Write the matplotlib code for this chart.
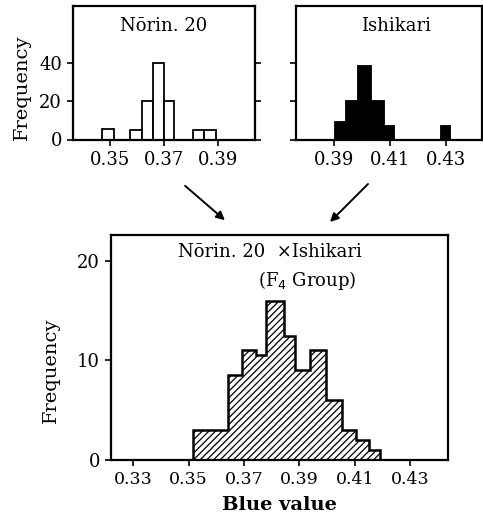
import matplotlib
matplotlib.use("Agg")
import matplotlib.pyplot as plt

# Norin 20 (parent), bins
nor_left = [0.3472, 0.3575, 0.3618, 0.3658, 0.3700, 0.3806, 0.3849]
nor_right = [0.3517, 0.3618, 0.3658, 0.3700, 0.3738, 0.3849, 0.3891]
nor_freq = [5.5, 5, 20, 40, 20, 5, 5]

# Ishikari (parent)
ish_left = [0.3897, 0.3939, 0.3981, 0.4032, 0.4076, 0.4277]
ish_right = [0.3939, 0.3981, 0.4032, 0.4076, 0.4115, 0.4316]
ish_freq = [9.5, 20.5, 39, 20.5, 7.5, 7.5]

# F4 group
f4_edges = [0.3516, 0.3642, 0.3694, 0.3742, 0.3778, 0.3844, 0.3886,
            0.3938, 0.3995, 0.4055, 0.4103, 0.4151, 0.4193]
f4_freq = [3, 8.5, 11, 10.5, 16, 12.5, 9, 11, 6, 3, 2, 1]

top_ticks = [0, 20, 40]
nor_xticks = [0.35, 0.37, 0.39]
ish_xticks = [0.39, 0.41, 0.43]
f4_xticks = [0.33, 0.35, 0.37, 0.39, 0.41, 0.43]
f4_yticks = [0, 10, 20]

plt.rcParams['font.family'] = 'DejaVu Serif'
plt.rcParams['hatch.linewidth'] = 0.9

W, H = 483, 519
fig = plt.figure(figsize=(W / 100, H / 100), dpi=100)


def box(l, t, r, b):
    return fig.add_axes([l / W, 1 - b / H, (r - l) / W, (b - t) / H])


def style(ax):
    for s in ax.spines.values():
        s.set_linewidth(1.6)
    ax.tick_params(direction='out', length=4, width=1.2, labelsize=13, pad=4)


# top left
ax1 = box(73, 6, 255, 139.5)
ax1.bar(nor_left, nor_freq, width=[r - l for l, r in zip(nor_left, nor_right)],
        align='edge', color='white', edgecolor='black', linewidth=1.3)
ax1.set_xlim(0.3364, 0.4036)
ax1.set_ylim(0, 69.5)
ax1.set_yticks(top_ticks)
ax1.set_xticks(nor_xticks)
ax1.set_xticklabels(["%.2f" % v for v in nor_xticks])
ax1.tick_params(axis='y', which='both', right=True)
style(ax1)
ax1.text(0.5, 0.85, "N\u014drin. 20", transform=ax1.transAxes,
         ha='center', va='center', fontsize=13)

# top right
ax2 = box(296, 6, 482, 139.5)
ax2.bar(ish_left, ish_freq, width=[r - l for l, r in zip(ish_left, ish_right)],
        align='edge', color='black', edgecolor='black', linewidth=0.6,
        joinstyle='miter')
ax2.set_xlim(0.3762, 0.4429)
ax2.set_ylim(0, 69.5)
ax2.set_yticks(top_ticks)
ax2.set_yticklabels([])
ax2.set_xticks(ish_xticks)
ax2.set_xticklabels(["%.2f" % v for v in ish_xticks])
style(ax2)
ax2.text(0.54, 0.85, "Ishikari", transform=ax2.transAxes,
         ha='center', va='center', fontsize=13)

fig.text(22 / W, 1 - 87 / H, "Frequency", rotation=90, ha='center',
         va='center', fontsize=14)

# bottom
ax3 = box(111, 235, 448, 460)
ax3.stairs(f4_freq, f4_edges, fill=True, facecolor='white', edgecolor='black',
           hatch='/////', linewidth=1.8)
ax3.set_xlim(0.322, 0.4437)
ax3.set_ylim(0, 22.6)
ax3.set_xticks(f4_xticks)
ax3.set_xticklabels(["%.2f" % v for v in f4_xticks])
ax3.set_yticks(f4_yticks)
style(ax3)
ax3.tick_params(axis='x', labelsize=12.5)
ax3.set_xlabel("Blue value", fontsize=14, fontweight='bold', labelpad=6)
fig.text(51 / W, 1 - 370 / H, "Frequency", rotation=90, ha='center',
         va='center', fontsize=14)
fig.text(270 / W, 1 - 252 / H, "N\u014drin. 20  \u00d7Ishikari",
         ha='center', va='center', fontsize=13)
fig.text(307 / W, 1 - 281 / H, "(F$_4$ Group)", ha='center', va='center',
         fontsize=13)

# arrows
for (x0, y0), (x1, y1) in [((183, 184), (227, 222)), ((370, 182), (328, 224))]:
    fig.add_artist(matplotlib.patches.FancyArrowPatch(
        (x0 / W, 1 - y0 / H), (x1 / W, 1 - y1 / H), transform=fig.transFigure,
        arrowstyle='-|>,head_length=5,head_width=2.5', color='black',
        linewidth=1.4))

fig.savefig("out.png", dpi=100)
